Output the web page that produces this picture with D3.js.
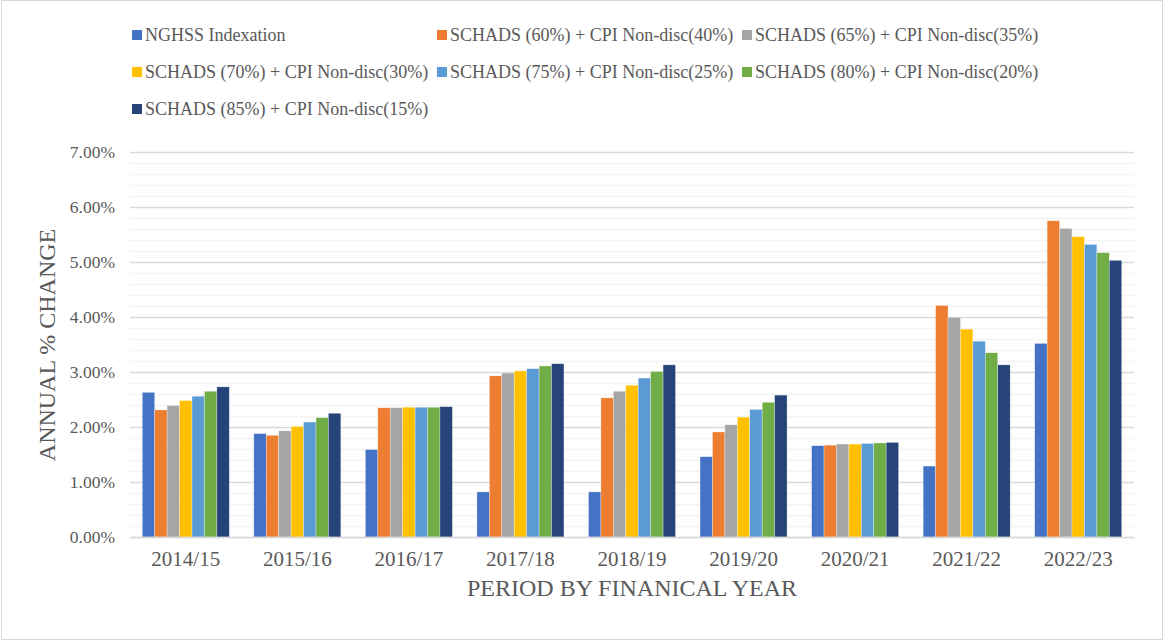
<!DOCTYPE html>
<html>
<head>
<meta charset="utf-8">
<script src="https://cdnjs.cloudflare.com/ajax/libs/d3/7.8.5/d3.min.js"></script>
<style>
  body { margin: 0; background: #fff; }
  svg text { font-family: "Liberation Serif", "DejaVu Serif", serif; fill: #595959; }
</style>
</head>
<body>
<script>
// chart data
var years = ["2014/15", "2015/16", "2016/17", "2017/18", "2018/19", "2019/20", "2020/21", "2021/22", "2022/23"];
var seriesNames = [
  "NGHSS Indexation",
  "SCHADS (60%) + CPI Non-disc(40%)",
  "SCHADS (65%) + CPI Non-disc(35%)",
  "SCHADS (70%) + CPI Non-disc(30%)",
  "SCHADS (75%) + CPI Non-disc(25%)",
  "SCHADS (80%) + CPI Non-disc(20%)",
  "SCHADS (85%) + CPI Non-disc(15%)"
];
var colors = ["#4472C4", "#ED7D31", "#A5A5A5", "#FFC000", "#5B9BD5", "#70AD47", "#264478"];

var nghss   = [2.63, 1.88, 1.59, 0.82, 0.82, 1.46, 1.66, 1.29, 3.52];
var sch60   = [2.31, 1.85, 2.35, 2.93, 2.53, 1.91, 1.67, 4.21, 5.75];
var sch65   = [2.39, 1.93, 2.35, 2.98, 2.65, 2.04, 1.69, 3.99, 5.61];
var sch70   = [2.48, 2.01, 2.36, 3.02, 2.76, 2.18, 1.69, 3.78, 5.46];
var sch75   = [2.56, 2.09, 2.36, 3.06, 2.89, 2.32, 1.70, 3.56, 5.32];
var sch80   = [2.65, 2.17, 2.36, 3.11, 3.01, 2.45, 1.71, 3.35, 5.17];
var sch85   = [2.73, 2.25, 2.37, 3.15, 3.13, 2.58, 1.72, 3.13, 5.03];
var seriesValues = [nghss, sch60, sch65, sch70, sch75, sch80, sch85];

var yMajorTicks = [0, 1, 2, 3, 4, 5, 6, 7];

var W = 1165, H = 641;
var margin = {top: 152, right: 31, bottom: 104, left: 130};
var width = W - margin.left - margin.right,
    height = H - margin.top - margin.bottom;

var svg = d3.select("body").append("svg")
    .attr("width", W)
    .attr("height", H);

// chart border
svg.append("rect")
    .attr("x", 1.5).attr("y", 0.5)
    .attr("width", 1161).attr("height", 639)
    .attr("fill", "none")
    .attr("stroke", "#d9d9d9");

var g = svg.append("g")
    .attr("transform", "translate(" + margin.left + "," + margin.top + ")");

var x0 = d3.scaleBand().domain(years).range([0, width]).paddingInner(0.22).paddingOuter(0.11);
var x1 = d3.scaleBand().domain(d3.range(seriesNames.length)).range([0, x0.bandwidth()]);
var y = d3.scaleLinear().domain([0, 7]).range([height, 0]);

// minor gridlines every 0.2%
g.append("g")
    .selectAll("line")
    .data(d3.range(0, 7.001, 0.2).filter(function(v) { return Math.abs(v - Math.round(v)) > 0.01; }))
    .enter().append("line")
    .attr("x1", 0).attr("x2", width)
    .attr("y1", function(d) { return Math.round(y(d)) + 0.5; })
    .attr("y2", function(d) { return Math.round(y(d)) + 0.5; })
    .attr("stroke", "#f2f2f2")
    .attr("stroke-width", 1.5);

// major gridlines + labels
var yAxis = d3.axisLeft(y)
    .tickValues(yMajorTicks)
    .tickSize(-width)
    .tickPadding(15)
    .tickFormat(function(d) { return d.toFixed(2) + "%"; });

var ya = g.append("g").call(yAxis);
ya.select(".domain").remove();
ya.selectAll("line").attr("stroke", "#d9d9d9").attr("stroke-width", 1.3);
ya.selectAll("text").attr("font-size", "17.5px").attr("fill", "#595959");

// bars
var groups = g.append("g").selectAll("g")
    .data(years)
    .enter().append("g")
    .attr("transform", function(d) { return "translate(" + x0(d) + ",0)"; });

groups.selectAll("rect")
    .data(function(d, i) { return seriesValues.map(function(s, k) { return {k: k, v: s[i]}; }); })
    .enter().append("rect")
    .attr("x", function(d) { return x1(d.k); })
    .attr("width", x1.bandwidth())
    .attr("y", function(d) { return y(d.v); })
    .attr("height", function(d) { return height - y(d.v); })
    .attr("fill", function(d) { return colors[d.k]; })
    .attr("stroke", "#ffffff")
    .attr("stroke-opacity", 0.5)
    .attr("stroke-width", 0.6);

// x axis
var xAxis = d3.axisBottom(x0).tickSize(0).tickPadding(14);
var xa = g.append("g")
    .attr("transform", "translate(0," + height + ")")
    .call(xAxis);
xa.select(".domain").attr("stroke", "#d9d9d9").attr("stroke-width", 1.3);
xa.selectAll("text").attr("font-size", "21px").attr("fill", "#595959");

// axis titles
svg.append("text")
    .attr("x", 632).attr("y", 596)
    .attr("text-anchor", "middle")
    .attr("font-size", "24px")
    .text("PERIOD BY FINANICAL YEAR");

svg.append("text")
    .attr("transform", "translate(55,345) rotate(-90)")
    .attr("text-anchor", "middle")
    .attr("font-size", "24px")
    .text("ANNUAL % CHANGE");

// legend: 3 columns
var legend = svg.append("g").selectAll("g")
    .data(seriesNames)
    .enter().append("g")
    .attr("transform", function(d, i) {
      return "translate(" + (132 + (i % 3) * 305) + "," + (35 + Math.floor(i / 3) * 37) + ")";
    });

legend.append("rect")
    .attr("x", 0).attr("y", -5)
    .attr("width", 10).attr("height", 10)
    .attr("fill", function(d, i) { return colors[i]; });

legend.append("text")
    .attr("x", 13)
    .attr("y", 0)
    .attr("dy", "0.35em")
    .attr("font-size", "18px")
    .text(function(d) { return d; });
</script>
</body>
</html>
